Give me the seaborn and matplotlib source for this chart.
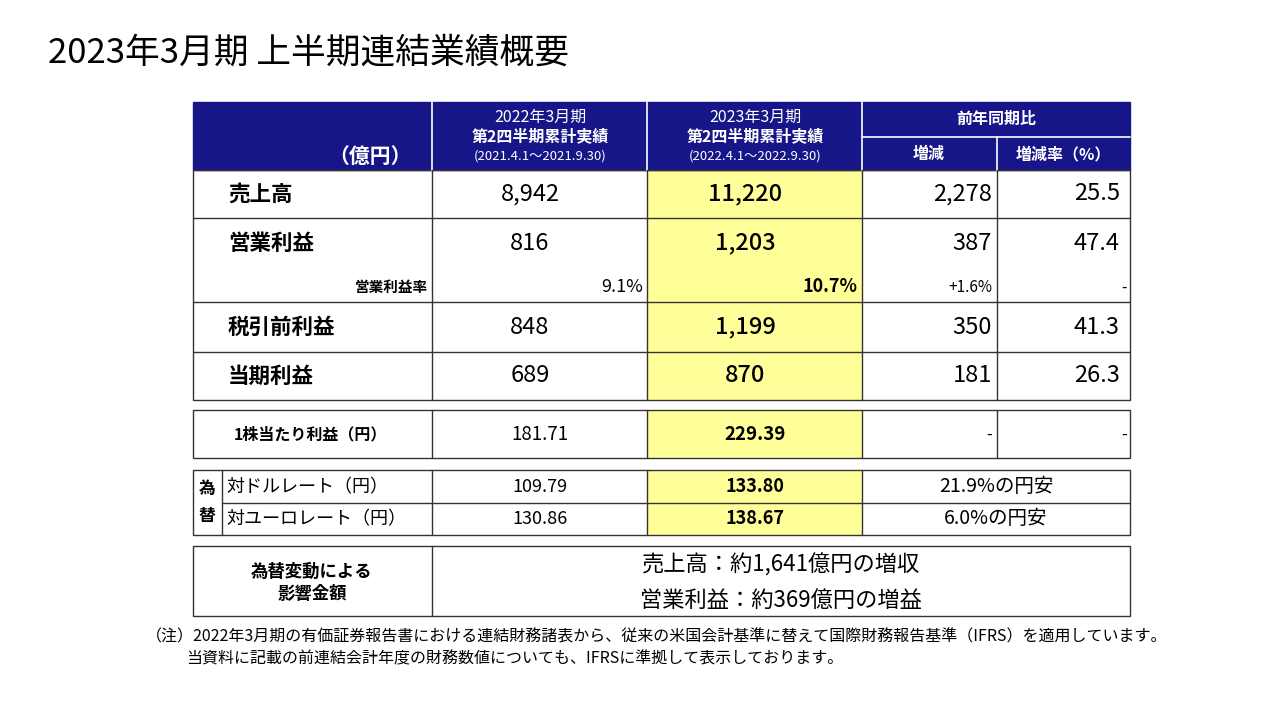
import matplotlib
matplotlib.use("Agg")
import matplotlib.pyplot as plt
import seaborn as sns
from matplotlib.patches import Rectangle

sns.set_theme(style="white")
plt.rcParams["font.family"] = "Noto Sans CJK JP"

title = "2023年3月期 上半期連結業績概要"
row_labels = ["売上高", "営業利益", "税引前利益", "当期利益"]
prev_vals = ["8,942", "816", "848", "689"]
curr_vals = ["11,220", "1,203", "1,199", "870"]
diff_vals = ["2,278", "387", "350", "181"]
rate_vals = ["25.5", "47.4", "41.3", "26.3"]
margin_vals = ["9.1%", "10.7%", "+1.6%", "-"]
eps_vals = ["181.71", "229.39", "-", "-"]
fx_labels = ["対ドルレート（円）", "対ユーロレート（円）"]
fx_prev = ["109.79", "130.86"]
fx_curr = ["133.80", "138.67"]
fx_note = ["21.9%の円安", "6.0%の円安"]
impact = ["売上高：約1,641億円の増収", "営業利益：約369億円の増益"]
notes = ["（注）2022年3月期の有価証券報告書における連結財務諸表から、従来の米国会計基準に替えて国際財務報告基準（IFRS）を適用しています。",
         "当資料に記載の前連結会計年度の財務数値についても、IFRSに準拠して表示しております。"]

fig = plt.figure(figsize=(12.81, 7.2), dpi=100)
ax = fig.add_axes([0, 0, 1, 1])
ax.set_xlim(0, 1281); ax.set_ylim(720, 0); ax.axis("off")
navy = "#161688"; yellow = "#FFFF99"; lc = "#333333"

def rect(x0, y0, x1, y1, fc="none", ec=lc, lw=1.0, z=1):
    ax.add_patch(Rectangle((x0, y0), x1 - x0, y1 - y0, fc=fc, ec=ec, lw=lw, zorder=z))

def hline(y, x0, x1, c=lc, lw=1.0):
    ax.plot([x0, x1], [y, y], color=c, lw=lw, zorder=3)

def vline(x, y0, y1, c=lc, lw=1.0):
    ax.plot([x, x], [y0, y1], color=c, lw=lw, zorder=3)

def t(x, y, s, size=12, ha="center", w="normal", c="black"):
    ax.text(x, y, s, fontsize=size, ha=ha, va="center", weight=w, color=c, zorder=4)

t(48, 53, title, size=25, ha="left")

X = [193, 432, 647, 862, 997, 1130]
rect(193, 102, 1130, 170, fc=navy, ec=navy, z=1)
for x in X[1:4]:
    vline(x, 102, 170, c="white", lw=1.2)
vline(997, 137, 170, c="white", lw=1.2)
hline(137, 862, 1130, c="white", lw=1.2)
t(370, 156, "（億円）", size=15, w="bold", c="white")
for xc, a, b in [(540, "2022年3月期", "(2021.4.1～2021.9.30)"), (755, "2023年3月期", "(2022.4.1～2022.9.30)")]:
    t(xc, 117, a, size=11.5, c="white")
    t(xc, 136, "第2四半期累計実績", size=11.5, w="bold", c="white")
    t(xc, 156, b, size=9.5, c="white")
t(996, 119, "前年同期比", size=11.5, w="bold", c="white")
t(929, 154, "増減", size=11.5, w="bold", c="white")
t(1063, 154, "増減率（%）", size=11.5, w="bold", c="white")

rect(647, 170, 862, 400, fc=yellow, ec="none", z=0)
rect(193, 170, 1130, 400)
for x in X[1:5]:
    vline(x, 170, 400)
rows = [(170, 218), (218, 268), (302, 352), (352, 400)]
for y in [218, 302, 352]:
    hline(y, 193, 1130)
for (y0, y1), lab, p, c, d, r in zip(rows, row_labels, prev_vals, curr_vals, diff_vals, rate_vals):
    ym = (y0 + y1) / 2
    t(228, ym, lab, size=15.5, ha="left", w="bold")
    t(530, ym, p, size=17)
    t(745, ym, c, size=17, w="medium")
    t(992, ym, d, size=17, ha="right")
    t(1120, ym, r, size=17, ha="right")
t(428, 287, "営業利益率", size=10.5, ha="right", w="bold")
for x, s, wt in zip([643, 857, 992, 1127], margin_vals, ["normal", "bold", "normal", "normal"]):
    t(x, 287, s, size=13 if x < 900 else 11, ha="right", w=wt)

rect(647, 410, 862, 458, fc=yellow, ec="none", z=0)
rect(193, 410, 1130, 458)
for x in X[1:5]:
    vline(x, 410, 458)
t(310, 434, "1株当たり利益（円）", size=11.5, w="bold")
t(540, 434, eps_vals[0], size=13.5)
t(755, 434, eps_vals[1], size=13.5, w="bold")
t(992, 434, eps_vals[2], size=12, ha="right")
t(1127, 434, eps_vals[3], size=12, ha="right")

rect(647, 470, 862, 535, fc=yellow, ec="none", z=0)
rect(193, 470, 1130, 535)
for x in [222, 432, 647, 862]:
    vline(x, 470, 535)
hline(503, 222, 1130)
t(207, 489, "為", size=12, w="bold"); t(207, 516, "替", size=12, w="bold")
for i, ym in enumerate([487, 519]):
    t(226, ym, fx_labels[i], size=13, ha="left")
    t(540, ym, fx_prev[i], size=13)
    t(755, ym, fx_curr[i], size=13, w="bold")
    t(996, ym, fx_note[i], size=14)

rect(193, 546, 1130, 616)
vline(432, 546, 616)
t(312, 572, "為替変動による", size=12.5, w="bold")
t(312, 594, "影響金額", size=12.5, w="bold")
t(781, 565, impact[0], size=16)
t(781, 600, impact[1], size=16)

t(146, 637, notes[0], size=11.5, ha="left")
t(186, 659, notes[1], size=11.5, ha="left")

fig.savefig("out.png", dpi=100)
